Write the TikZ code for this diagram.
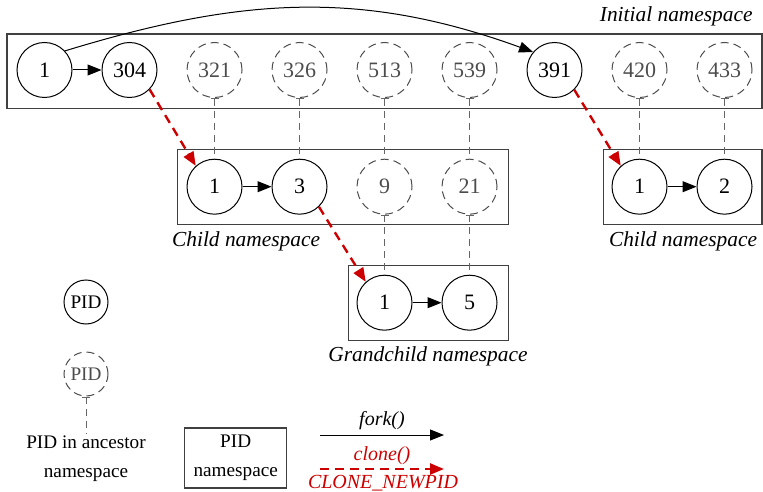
\documentclass[tikz,border=0pt]{standalone}
\usepackage{fontspec}
\setmainfont{Liberation Serif}
\usetikzlibrary{arrows.meta}
\definecolor{clonered}{HTML}{CC0000}
\tikzset{
  pid/.style={circle,draw,line width=0.5pt,minimum size=27.5pt,inner sep=0pt,font=\fontsize{11}{13}\selectfont},
  ghost/.style={pid,draw=black!70,text=black!70,dash pattern=on 4pt off 2.5pt},
  nsbox/.style={draw=black!75,line width=0.6pt},
  nslabel/.style={inner sep=0pt,font=\fontsize{10.7}{13}\selectfont\itshape},
  legendtext/.style={font=\fontsize{9.6}{14.5}\selectfont},
  forkline/.style={-{Triangle[length=7pt,width=5.5pt]},line width=0.5pt},
  cloneline/.style={-{Triangle[length=7pt,width=5.5pt]},draw=clonered,line width=1.2pt,dash pattern=on 4.5pt off 3pt},
  ancestor/.style={{Bar[width=4pt,line width=0.5pt]}-,draw=black!60,line width=0.5pt,dash pattern=on 3.5pt off 2.5pt}
}
\begin{document}
\begin{tikzpicture}[x=0.5pt,y=0.5pt]
    \useasboundingbox (0,0) rectangle (763,-491);
    % namespaces
    \draw[nsbox] (7,-34) rectangle (762,-108.7);
    \draw[nsbox] (177.3,-149.3) rectangle (508.3,-224.3);
    \draw[nsbox] (348.3,-265.7) rectangle (508.3,-340.3);
    \draw[nsbox] (603.3,-149.3) rectangle (762,-224.3);
    \node[nslabel,anchor=base east] (linit) at (753,-22) {Initial namespace};
    \node[nslabel,anchor=base west] (lchild) at (171.7,-246.7) {Child namespace};
    \node[nslabel,anchor=base] (lgrand) at (428,-361.7) {Grandchild namespace};
    \node[nslabel,anchor=base] (lchildr) at (683,-246.5) {Child namespace};
    % processes
    \foreach \p/\s [count=\i] in {1/pid,304/pid,321/ghost,326/ghost,513/ghost,539/ghost,391/pid,420/ghost,433/ghost}
        \node[\s] (t\i) at ({-40.5+85*\i},-70) {\p};
    \node[pid] (c1) at (214.5,-186.7) {1};
    \node[pid] (c2) at (299.5,-186.7) {3};
    \node[ghost] (c3) at (384.5,-186.7) {9};
    \node[ghost] (c4) at (469.5,-186.7) {21};
    \node[pid] (g1) at (384.5,-302.7) {1};
    \node[pid] (g2) at (469.5,-302.7) {5};
    \node[pid] (r1) at (639.5,-186.7) {1};
    \node[pid] (r2) at (724.5,-186.7) {2};
    % same process, ancestor pid
    \draw[ancestor] (t3) -- (c1);
    \draw[ancestor] (t4) -- (c2);
    \draw[ancestor] (t5) -- (c3);
    \draw[ancestor] (t6) -- (c4);
    \draw[ancestor] (c3) -- (g1);
    \draw[ancestor] (c4) -- (g2);
    \draw[ancestor] (t8) -- (r1);
    \draw[ancestor] (t9) -- (r2);
    % fork and clone
    \draw[forkline] (t1) -- (t2);
    \draw[forkline] (t1.43) to[out=17,in=160] (t7.140);
    \draw[forkline] (c1) -- (c2);
    \draw[forkline] (g1) -- (g2);
    \draw[forkline] (r1) -- (r2);
    \draw[cloneline] (t2.-44) -- (c1.132);
    \draw[cloneline] (t7.-45) -- (r1.132);
    \draw[cloneline] (c2.-46) -- (g1.132);
    % legend
    \node[pid,legendtext,minimum size=22pt] (kpid) at (86,-302) {PID};
    \node[ghost,legendtext,minimum size=22pt] (kghost) at (86,-374) {PID};
    \node[legendtext,align=center,inner sep=1pt] (kanc) at (86,-459) {PID in ancestor\\namespace};
    \draw[ancestor] (kghost) -- (kanc);
    \node[nsbox,legendtext,align=center,minimum width=51pt,minimum height=30pt] (kns) at (235.7,-458) {PID\\namespace};
    \coordinate (kf1) at (320,-435);
    \coordinate (kf2) at (444,-435);
    \coordinate (kc1) at (320,-469);
    \coordinate (kc2) at (444,-469);
    \draw[forkline] (kf1) -- (kf2);
    \draw[cloneline] (kc1) -- (kc2);
    \node[legendtext,font=\itshape,anchor=base] (kfork) at (382,-425) {fork()};
    \node[legendtext,font=\itshape,text=clonered,anchor=base] (kclone) at (382,-460) {clone()};
    \node[legendtext,font=\itshape,text=clonered,anchor=base] (knewpid) at (383,-488) {CLONE\_NEWPID};
\end{tikzpicture}
\end{document}
